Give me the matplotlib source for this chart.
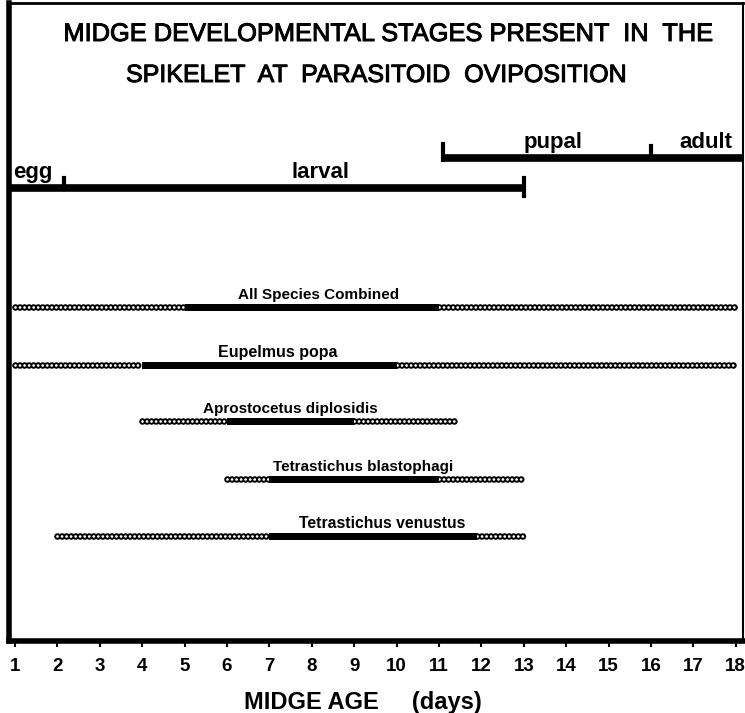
import matplotlib
matplotlib.use("Agg")
import matplotlib.pyplot as plt
import matplotlib.patheffects as pe
import numpy as np

plt.rcParams['font.family'] = ['Liberation Sans', 'DejaVu Sans']

# ---- data ----
days = list(range(1, 19))
species = ["All Species Combined", "Eupelmus popa", "Aprostocetus diplosidis",
           "Tetrastichus blastophagi", "Tetrastichus venustus"]
# oviposition window: start of observed range, start of main range, end of main range, end of observed range
range_start = [1.0, 1.0, 4.0, 6.0, 2.0]
main_start = [5.0, 4.0, 6.0, 7.0, 7.0]
main_end = [11.0, 10.0, 9.0, 11.0, 11.9]
range_end = [18.0, 18.0, 11.4, 13.0, 13.0]

# midge developmental stages (boundaries in days)
stage_names = ["egg", "larval", "pupal", "adult"]
stage_start = [0.85, 2.15, 11.1, 16.0]
stage_end = [2.15, 13.0, 16.0, 18.2]
stage_row = [0, 0, 1, 1]

# ---- layout ----
label_center = [8.15, 7.2, 7.5, 9.2, 9.65]
label_size = [11, 11.5, 11, 11, 11.3]
row_y = [304, 362, 418, 476, 533]
stage_y = [185, 155]
stage_label_x = [1.42, 8.2, 13.7, 17.3]
stage_label_y = [175, 175, 145, 145]

fig = plt.figure(figsize=(7.45, 7.13), dpi=100)
ax = fig.add_axes([9 / 745, 1 - 641 / 713, (743 - 9) / 745, (641 - 3) / 713])
ax.set_xlim(0.86, 18.17)
ax.set_ylim(0, 638)
ax.invert_yaxis()

outer_lw, inner_lw, gap = 4.8, 2.0, 0.68
for name, y, rs, ms, me, re, lx, fs in zip(species, row_y, range_start, main_start,
                                           main_end, range_end, label_center, label_size):
    for a, b in [(rs, ms), (me, re)]:
        if b > a:
            # chain-of-rings line for the observed (hatched) range
            ax.plot([a, b], [y, y], color='black', lw=outer_lw,
                    linestyle=(0, (0.001, gap)), dash_capstyle='round')
            ax.plot([a, b], [y, y], color='white', lw=inner_lw,
                    linestyle=(0, (0.001, gap * outer_lw / inner_lw)), dash_capstyle='round')
    ax.barh(y, me - ms, left=ms, height=7, color='black', linewidth=0, zorder=3)
    ax.text(lx, y - 8, name, ha='center', va='baseline', fontsize=fs, fontweight='bold')

# stage bars
for nm, s, e, r in zip(stage_names, stage_start, stage_end, stage_row):
    y = stage_y[r]
    ax.plot([s, e], [y, y], color='black', lw=5.5, solid_capstyle='butt')
# stage boundary ticks
ax.plot([stage_end[0]] * 2, [stage_y[0], stage_y[0] - 10], color='black', lw=3)
ax.plot([stage_end[1]] * 2, [stage_y[0] + 8, stage_y[0] - 10], color='black', lw=3)
ax.plot([stage_start[2]] * 2, [stage_y[1] + 2, stage_y[1] - 14], color='black', lw=3)
ax.plot([stage_end[2]] * 2, [stage_y[1], stage_y[1] - 12], color='black', lw=3)

for nm, lx, ly in zip(stage_names, stage_label_x, stage_label_y):
    ax.text(lx, ly, nm, ha='center', va='baseline', fontsize=16, fontweight='bold')

# title inside axes
bold_fx = [pe.withStroke(linewidth=0.7, foreground='black')]
ax.text(0.5164, 1 - 38 / 638, "MIDGE DEVELOPMENTAL STAGES PRESENT  IN  THE",
        transform=ax.transAxes, ha='center', va='baseline', fontsize=18.3, path_effects=bold_fx)
ax.text(0.5, 1 - 79 / 638, "SPIKELET  AT  PARASITOID  OVIPOSITION", transform=ax.transAxes,
        ha='center', va='baseline', fontsize=18, path_effects=bold_fx)

ax.set_xticks(days)
ax.set_xticklabels([str(d) for d in days], fontsize=13.5, fontweight='bold')
ax.tick_params(axis='x', direction='out', length=4, width=1.5, pad=8)
ax.set_yticks([])
ax.spines['left'].set_linewidth(4)
ax.spines['bottom'].set_linewidth(4)
ax.spines['top'].set_linewidth(2)
ax.spines['right'].set_linewidth(1.5)

fig.text(363 / 745, 1 - 702 / 713, "MIDGE AGE     (days)", ha='center', va='center',
         fontsize=17, fontweight='bold')

fig.savefig("out.png", dpi=100)
